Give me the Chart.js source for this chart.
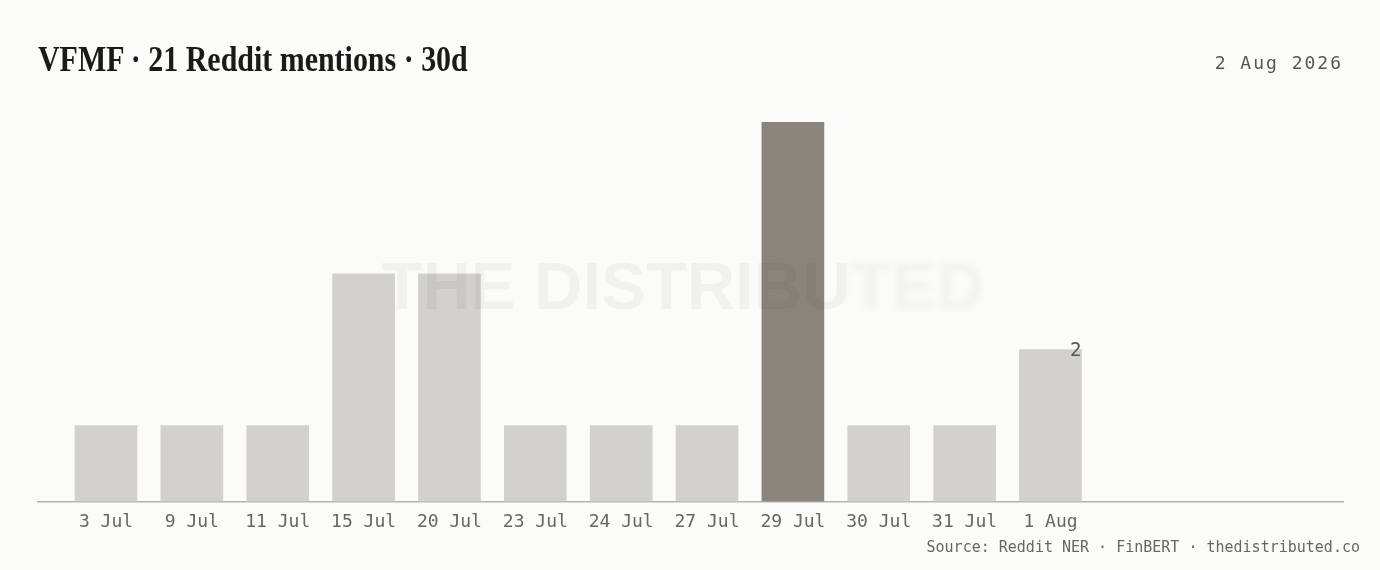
<!DOCTYPE html>
<html>
<head>
<meta charset="utf-8">
<script src="https://cdn.jsdelivr.net/npm/chart.js@4.4.1/dist/chart.umd.min.js"></script>
<style>
  html, body { margin: 0; padding: 0; background: #fbfbf9; }
  #wrap { position: relative; width: 1380px; height: 570px; overflow: hidden; }
  #title {
    position: absolute; left: 38px; top: 41px; margin: 0;
    font: bold 36px "Liberation Serif", serif; line-height: 1;
    color: #1a1a18; white-space: nowrap; transform-origin: left top;
  }
  #date {
    position: absolute; right: 37px; top: 54px;
    font: 18px "DejaVu Sans Mono", monospace; line-height: 1;
    letter-spacing: 2px; color: #555;
  }
  #source {
    position: absolute; right: 20px; top: 540px;
    font: 15px "DejaVu Sans Mono", monospace; line-height: 1; color: #666;
  }
  canvas { position: absolute; left: 0; top: 0; }
</style>
</head>
<body>
<div id="wrap">
  <canvas id="chart" width="1380" height="570"></canvas>
  <h1 id="title">VFMF · 21 Reddit mentions · 30d</h1>
  <div id="date">2 Aug 2026</div>
  <div id="source">Source: Reddit NER · FinBERT · thedistributed.co</div>
</div>
<script>
// data
const days = ['3 Jul', '9 Jul', '11 Jul', '15 Jul', '20 Jul', '23 Jul', '24 Jul', '27 Jul', '29 Jul', '30 Jul', '31 Jul', '1 Aug'];
const mentions = [1, 1, 1, 3, 3, 1, 1, 1, 5, 1, 1, 2];

// squeeze the title to the width it has in the reference
const title = document.getElementById('title');
title.style.transform = 'scaleX(' + (430 / title.offsetWidth) + ')';

const peak = Math.max(...mentions);
const barColors = mentions.map(v => v === peak ? '#8a857c' : '#d3d1cd');

// watermark over the bars, right end blurred
const watermark = {
  id: 'watermark',
  afterDatasetsDraw(chart) {
    const ctx = chart.ctx;
    const txt = 'THE DISTRIBUTED';
    const cx = 683, by = 309, cut = 846;
    ctx.save();
    ctx.font = 'bold 67px "Liberation Sans", sans-serif';
    ctx.fillStyle = 'rgba(0,0,0,0.04)';
    ctx.textAlign = 'center';
    ctx.textBaseline = 'alphabetic';
    ctx.beginPath();
    ctx.rect(0, 0, cut, chart.height);
    ctx.clip();
    ctx.fillText(txt, cx, by);
    ctx.restore();

    ctx.save();
    ctx.font = 'bold 67px "Liberation Sans", sans-serif';
    ctx.fillStyle = 'rgba(0,0,0,0.035)';
    ctx.textAlign = 'center';
    ctx.textBaseline = 'alphabetic';
    ctx.beginPath();
    ctx.rect(cut, 0, chart.width - cut, chart.height);
    ctx.clip();
    ctx.filter = 'blur(3px)';
    ctx.fillText(txt, cx, by);
    ctx.restore();
  }
};

// value label on the latest day
const lastValue = {
  id: 'lastValue',
  afterDatasetsDraw(chart) {
    const meta = chart.getDatasetMeta(0);
    const i = mentions.length - 1;
    const bar = meta.data[i];
    const ctx = chart.ctx;
    ctx.save();
    ctx.font = '19px "DejaVu Sans Mono", monospace';
    ctx.fillStyle = '#555';
    ctx.textAlign = 'right';
    ctx.textBaseline = 'middle';
    ctx.fillText(String(mentions[i]), bar.x + bar.width / 2, bar.y + 1);
    ctx.restore();
  }
};

new Chart(document.getElementById('chart').getContext('2d'), {
  type: 'bar',
  data: {
    datasets: [{
      data: mentions.map((v, i) => ({ x: i, y: v })),
      backgroundColor: barColors,
      borderWidth: 0,
      barThickness: 62
    }]
  },
  options: {
    responsive: false,
    animation: false,
    layout: { padding: { left: 38, right: 37, top: 122, bottom: 27 } },
    plugins: { legend: { display: false }, tooltip: { enabled: false } },
    scales: {
      x: {
        type: 'linear',
        offset: false,
        min: -0.792,
        max: 14.407,
        grid: { display: false, drawTicks: false },
        border: { display: true, color: '#b3b3b0', width: 1.5 },
        afterBuildTicks(scale) {
          scale.ticks = days.map((d, i) => ({ value: i }));
        },
        ticks: {
          autoSkip: false,
          maxRotation: 0,
          padding: 10,
          color: '#666',
          font: { family: '"DejaVu Sans Mono", monospace', size: 18 },
          callback: v => days[v]
        }
      },
      y: {
        display: false,
        min: 0,
        max: 5
      }
    }
  },
  plugins: [watermark, lastValue]
});
</script>
</body>
</html>
